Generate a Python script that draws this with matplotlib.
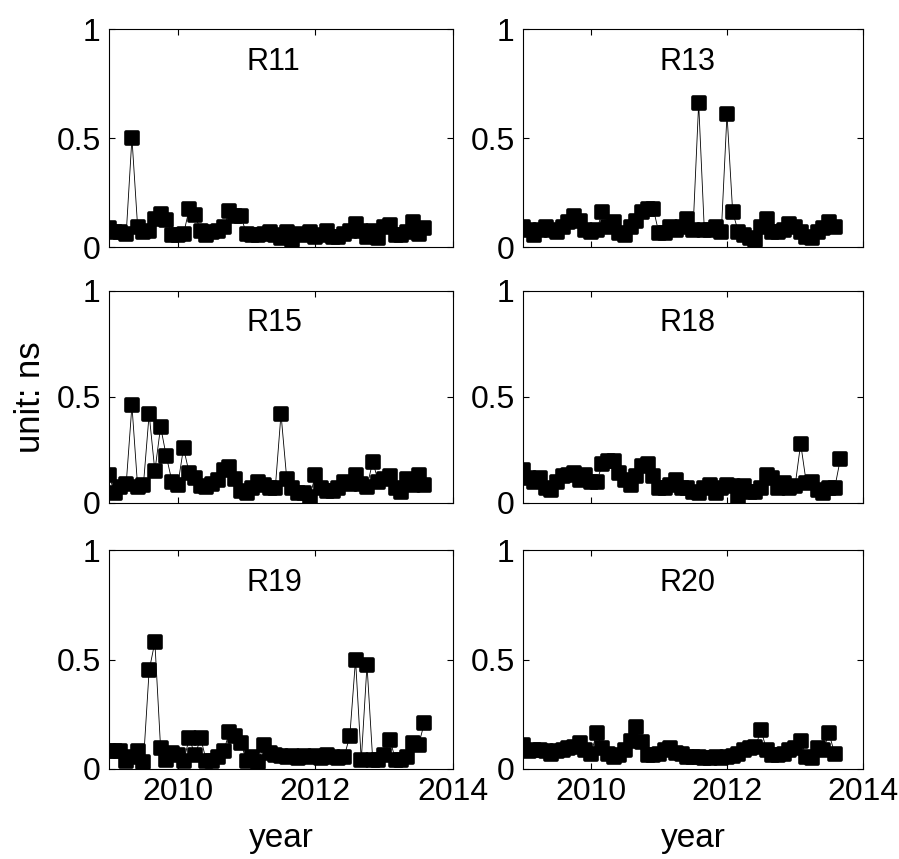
import matplotlib
matplotlib.use("Agg")
import matplotlib.pyplot as plt
from matplotlib.markers import MarkerStyle
import numpy as np

plt.rcParams.update({
    "font.family": ["Liberation Sans", "DejaVu Sans"],
    "font.size": 23,
    "axes.linewidth": 0.8,
})

# monthly samples starting Jan 2009
r11 = [0.085, 0.07, 0.07, 0.06, 0.5, 0.09, 0.07, 0.075, 0.13, 0.15,
       0.125, 0.055, 0.055, 0.06, 0.175, 0.145, 0.075, 0.055, 0.07, 0.075,
       0.09, 0.165, 0.14, 0.14, 0.06, 0.055, 0.055, 0.06, 0.07, 0.055,
       0.04, 0.07, 0.03, 0.06, 0.055, 0.07, 0.045, 0.055, 0.075, 0.045,
       0.045, 0.06, 0.075, 0.105, 0.075, 0.045, 0.075, 0.04, 0.09, 0.10,
       0.055, 0.055, 0.07, 0.115, 0.06, 0.085]
r13 = [0.09, 0.077, 0.055, 0.077, 0.09, 0.077, 0.07, 0.09, 0.115, 0.14,
       0.12, 0.077, 0.07, 0.077, 0.16, 0.09, 0.115, 0.062, 0.055, 0.09,
       0.12, 0.16, 0.175, 0.175, 0.062, 0.062, 0.09, 0.077, 0.09, 0.13,
       0.077, 0.66, 0.077, 0.077, 0.09, 0.07, 0.61, 0.16, 0.07, 0.055,
       0.04, 0.032, 0.09, 0.13, 0.07, 0.07, 0.077, 0.107, 0.09, 0.07,
       0.047, 0.04, 0.07, 0.085, 0.115, 0.09]
r15 = [0.13, 0.045, 0.075, 0.09, 0.46, 0.075, 0.085, 0.42, 0.15, 0.36,
       0.22, 0.10, 0.085, 0.26, 0.14, 0.12, 0.08, 0.075, 0.09, 0.11,
       0.155, 0.17, 0.115, 0.055, 0.045, 0.07, 0.10, 0.085, 0.07, 0.07,
       0.42, 0.115, 0.07, 0.045, 0.045, 0.03, 0.13, 0.07, 0.055, 0.055,
       0.07, 0.10, 0.09, 0.13, 0.09, 0.077, 0.195, 0.10, 0.115, 0.125,
       0.07, 0.053, 0.115, 0.085, 0.13, 0.085]
r18 = [0.158, 0.118, 0.10, 0.118, 0.07, 0.062, 0.10, 0.125, 0.134, 0.14,
       0.11, 0.134, 0.10, 0.10, 0.183, 0.199, 0.199, 0.14, 0.11, 0.086,
       0.126, 0.175, 0.183, 0.126, 0.07, 0.07, 0.086, 0.11, 0.07, 0.07,
       0.054, 0.046, 0.07, 0.086, 0.046, 0.07, 0.086, 0.078, 0.03, 0.078,
       0.054, 0.054, 0.07, 0.134, 0.118, 0.07, 0.094, 0.07, 0.078, 0.28,
       0.094, 0.10, 0.062, 0.046, 0.07, 0.07, 0.207]
r19 = [0.08, 0.08, 0.08, 0.035, 0.055, 0.08, 0.03, 0.45, 0.58,
       0.095, 0.04, 0.075, 0.065, 0.035, 0.14, 0.065, 0.14, 0.035, 0.035, 0.055, 0.08,
       0.17, 0.15, 0.12, 0.035, 0.055, 0.03, 0.11, 0.075,
       0.065, 0.06, 0.055, 0.06, 0.05, 0.06, 0.055, 0.06, 0.05, 0.065, 0.055, 0.05, 0.055,
       0.15, 0.50, 0.04, 0.475, 0.04, 0.04, 0.065, 0.134, 0.04, 0.04, 0.055, 0.12,
       0.11, 0.21]
r20 = [0.11, 0.08, 0.087, 0.087, 0.08, 0.07, 0.08, 0.087, 0.094, 0.10,
       0.117, 0.087, 0.07, 0.163, 0.094, 0.07, 0.056, 0.064, 0.085, 0.13,
       0.19, 0.125, 0.064, 0.064, 0.07, 0.085, 0.094, 0.075, 0.07, 0.056,
       0.056, 0.056, 0.05, 0.05, 0.056, 0.05, 0.056, 0.06, 0.07, 0.087,
       0.094, 0.10, 0.178, 0.087, 0.064, 0.064, 0.07, 0.087, 0.094, 0.13,
       0.056, 0.05, 0.094, 0.087, 0.163, 0.07]

names = ["R11", "R13", "R15", "R18", "R19", "R20"]
series = [r11, r13, r15, r18, r19, r20]
x_ticks = [2010, 2012, 2014]
y_ticks = [0, 0.5, 1]

fig = plt.figure(figsize=(8.99, 8.59), dpi=100)
W, H = 899, 859
cols = [(109, 453), (523, 863)]
rows = [(29, 247), (291, 503), (550, 769)]

marker = MarkerStyle("s", joinstyle="round")

for i, (name, vals) in enumerate(zip(names, series)):
    r, c = divmod(i, 2)
    x0, x1 = cols[c]
    y0, y1 = rows[r]
    ax = fig.add_axes([x0 / W, 1 - y1 / H, (x1 - x0) / W, (y1 - y0) / H])
    t = 2009 + np.arange(len(vals)) / 12
    ax.plot(t, vals, color="black", linewidth=0.6, marker=marker,
            markersize=8, markerfacecolor="black", markeredgecolor="black",
            markeredgewidth=2.6)
    ax.set_xlim(2009, 2014)
    ax.set_ylim(0, 1)
    ax.set_xticks(x_ticks)
    ax.set_yticks(y_ticks)
    ax.set_yticklabels(["0", "0.5", "1"])
    ax.tick_params(direction="in", length=4, width=0.8, top=True, right=True,
                   pad=6)
    if r < 2:
        ax.set_xticklabels([])
    ax.text(2011, 0.85, name, ha="left", va="center", fontsize=22)

fig.text(30 / W, 1 - 397 / H, "unit: ns", rotation=90, ha="center", va="center",
         fontsize=25)
fig.text(281 / W, 1 - 838 / H, "year", ha="center", va="center", fontsize=24)
fig.text(693 / W, 1 - 838 / H, "year", ha="center", va="center", fontsize=24)

fig.savefig("out.png", dpi=100)
